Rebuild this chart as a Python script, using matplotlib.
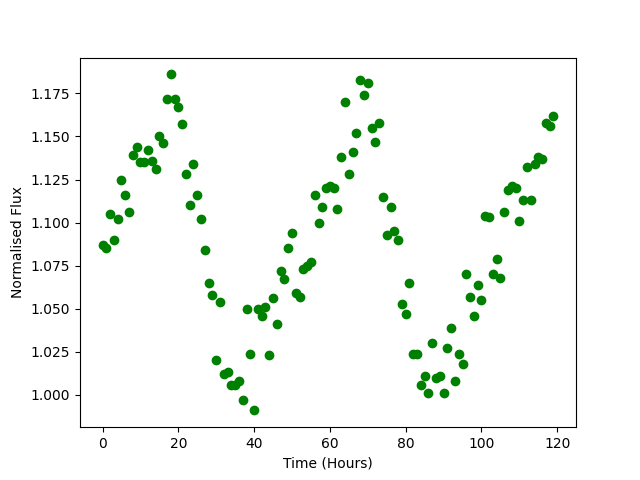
import numpy as np
import matplotlib
matplotlib.use("Agg")
import matplotlib.pyplot as plt

# time in hours, one reading per hour
time_hours = np.arange(120)

flux_0_39 = [1.087, 1.085, 1.105, 1.090, 1.102, 1.125, 1.116, 1.106, 1.139, 1.144,
             1.135, 1.135, 1.142, 1.136, 1.131, 1.150, 1.146, 1.172, 1.186, 1.172,
             1.167, 1.157, 1.128, 1.110, 1.134, 1.116, 1.102, 1.084, 1.065, 1.058,
             1.020, 1.054, 1.012, 1.013, 1.006, 1.006, 1.008, 0.997, 1.050, 1.024]
flux_40_79 = [0.991, 1.050, 1.046, 1.051, 1.023, 1.056, 1.041, 1.072, 1.067, 1.085,
              1.094, 1.059, 1.057, 1.073, 1.075, 1.077, 1.116, 1.100, 1.109, 1.120,
              1.121, 1.120, 1.108, 1.138, 1.170, 1.128, 1.141, 1.152, 1.183, 1.174,
              1.181, 1.155, 1.147, 1.158, 1.115, 1.093, 1.109, 1.095, 1.090, 1.053]
flux_80_119 = [1.047, 1.065, 1.024, 1.024, 1.006, 1.011, 1.001, 1.030, 1.010, 1.011,
               1.001, 1.027, 1.039, 1.008, 1.024, 1.018, 1.070, 1.057, 1.046, 1.064,
               1.055, 1.104, 1.103, 1.070, 1.079, 1.068, 1.106, 1.119, 1.121, 1.120,
               1.101, 1.113, 1.132, 1.113, 1.134, 1.138, 1.137, 1.158, 1.156, 1.162]

flux = flux_0_39 + flux_40_79 + flux_80_119

plt.figure(figsize=(6.4, 4.8), dpi=100)
plt.plot(time_hours, flux, 'o', color='green')
plt.xlabel("Time (Hours)")
plt.ylabel("Normalised Flux")
plt.savefig("out.png")
